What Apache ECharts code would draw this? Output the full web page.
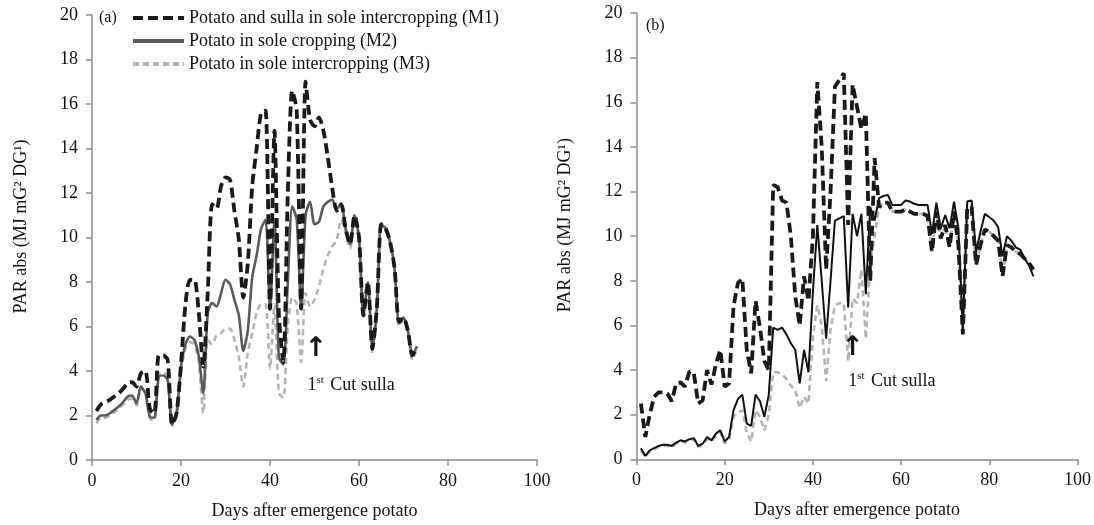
<!DOCTYPE html>
<html>
<head>
<meta charset="utf-8">
<script src="https://cdn.jsdelivr.net/npm/echarts@6/dist/echarts.min.js"></script>
<style>
html,body{margin:0;padding:0;background:#fff;}
#c{width:1094px;height:525px;}
</style>
</head>
<body>
<div id="c"></div>
<script>
// ---------- data ----------
const seriesNames = ['Potato and sulla in sole intercropping (M1)', 'Potato in sole cropping (M2)', 'Potato in sole intercropping (M3)'];
const xTicks = [0, 20, 40, 60, 80, 100];
const yTicks = [0, 2, 4, 6, 8, 10, 12, 14, 16, 18, 20];

// panel (a)
const daysA = [1,2,3,4,5,6,7,8,9,10,11,12,13,14,15,16,17,18,19,20,21,22,23,24,25,26,27,28,29,30,31,32,33,34,35,36,37,38,39,40,41,42,43,44,45,46,47,48,49,50,51,52,53,54,55,56,57,58,59,60,61,62,63,64,65,66,67,68,69,70,71,72,73];
const m1A = [2.2,2.5,2.6,2.7,2.85,3.0,3.2,3.45,3.5,3.3,
  3.9,4.0,2.3,2.1,4.7,4.7,4.5,1.6,2.1,4.3,
  7.0,8.1,8.1,6.6,4.2,7.5,11.5,11.3,12.3,12.7,
  12.6,11.2,9.9,7.3,8.8,12.3,14.0,15.6,15.7,6.8,
  14.8,6.5,4.4,12.0,16.6,15.7,6.8,17.0,15.3,15.0,
  15.4,14.8,13.6,12.2,11.2,11.5,10.4,9.7,11.0,10.0,
  6.5,8.0,5.0,6.8,10.6,10.4,9.8,8.6,6.2,6.4,
  5.8,4.7,5.1];
const m2A = [1.8,2.0,2.0,2.1,2.25,2.4,2.6,2.85,2.9,2.55,
  3.3,3.0,1.95,1.9,3.75,3.8,3.6,1.6,2.1,4.2,
  5.2,5.55,5.4,4.65,3.0,6.6,7.05,6.9,7.5,8.1,
  7.9,7.2,6.5,4.9,5.8,8.2,9.2,10.4,10.8,6.8,
  10.8,4.6,4.3,8.0,11.4,10.8,6.8,11.0,11.6,10.6,
  10.7,11.4,11.6,11.7,11.3,11.5,10.4,9.7,11.0,10.0,
  6.5,8.0,5.0,6.8,10.6,10.4,9.8,8.6,6.2,6.4,
  5.8,4.7,5.1];
const m3A = [1.65,1.9,1.9,2.0,2.15,2.3,2.5,2.7,2.75,2.45,
  3.2,3.0,1.85,1.8,3.85,3.95,3.75,1.55,1.95,4.0,
  5.0,5.3,5.2,4.4,2.1,5.4,5.2,5.6,5.7,5.9,
  5.9,5.4,4.6,3.3,4.8,5.7,6.6,7.0,7.0,4.1,
  7.0,3.0,2.8,6.0,7.3,7.0,4.4,7.5,6.9,7.2,
  7.8,8.6,9.2,9.6,9.9,10.8,10.2,9.5,10.8,9.9,
  6.4,7.8,4.8,6.6,10.5,10.3,9.7,8.5,6.0,6.3,
  5.7,4.5,5.0];

// panel (b)
const daysB = [1,2,3,4,5,6,7,8,9,10,11,12,13,14,15,16,17,18,19,20,21,22,23,24,25,26,27,28,29,30,31,32,33,34,35,36,37,38,39,40,41,42,43,44,45,46,47,48,49,50,51,52,53,54,55,56,57,58,59,60,61,62,63,64,65,66,67,68,69,70,71,72,73,74,75,76,77,78,79,80,81,82,83,84,85,86,87,88,89,90];
const m1B = [2.5,1.0,2.0,2.8,3.0,3.0,2.95,2.6,3.4,3.45,
  3.25,3.95,3.85,2.5,2.65,4.0,3.35,4.25,4.9,3.25,
  3.4,6.85,7.9,8.1,4.9,3.85,7.1,5.9,4.4,4.0,
  12.3,12.2,11.6,11.5,10.0,7.3,6.0,8.2,7.1,10.0,
  16.9,14.0,8.5,12.0,16.7,17.0,17.3,10.5,16.8,15.8,
  14.8,15.5,8.0,13.5,11.3,11.5,11.5,11.1,11.1,11.1,
  11.2,11.1,11.0,11.0,11.0,10.9,9.3,11.1,9.9,10.5,
  9.5,11.1,9.6,5.6,11.3,11.3,8.7,9.6,10.3,10.2,
  10.0,9.8,8.2,9.6,9.5,9.3,9.2,9.0,8.8,8.5];
const m2B = [0.5,0.15,0.4,0.5,0.6,0.65,0.65,0.6,0.75,0.85,
  0.8,0.9,0.95,0.6,0.7,1.0,0.85,1.15,1.3,0.8,
  1.0,2.2,2.7,2.9,1.6,1.5,2.9,2.6,1.9,2.9,
  5.9,5.8,5.9,5.6,5.2,4.9,3.4,4.9,3.9,7.5,
  10.5,8.0,5.4,8.0,10.7,10.8,10.9,6.8,11.0,10.0,
  11.0,7.4,11.3,10.7,11.7,11.8,11.85,11.4,11.4,11.4,
  11.6,11.55,11.45,11.4,11.4,11.4,10.1,11.5,10.35,10.95,
  10.35,11.55,10.35,5.8,11.55,11.6,9.3,10.2,11.0,10.85,
  10.7,10.4,9.1,10.0,9.8,9.5,9.4,9.0,8.7,8.2];
const m3B = [0.4,0.1,0.35,0.45,0.55,0.6,0.6,0.55,0.7,0.8,
  0.75,0.85,0.9,0.55,0.65,0.9,0.8,1.05,1.2,0.7,
  0.9,1.9,2.1,2.2,1.2,0.8,2.2,1.9,1.3,2.0,
  3.9,3.9,3.8,3.6,3.3,3.1,2.3,2.8,2.5,5.5,
  6.9,6.0,3.5,5.8,6.9,7.0,7.0,4.4,7.2,7.0,
  8.5,5.4,8.8,10.0,11.3,11.5,11.5,11.1,11.1,11.1,
  11.2,11.1,11.0,11.0,11.0,10.9,9.3,11.1,9.9,10.5,
  9.5,11.1,9.6,5.6,11.3,11.3,8.7,9.6,10.3,10.2,
  10.0,9.8,8.2,9.6,9.5,9.3,9.2,9.0,8.8,8.5];

// annotation positions (data coords)
const cutArrowA = [50.3, 5.0];
const cutTextA = [48.3, 3.37];
const cutArrowB = [49.0, 5.0];
const cutTextB = [47.9, 3.5];

// ---------- chart ----------
const FONT = '"Liberation Serif", "Times New Roman", serif';
const FS = 18;
const axisGray = '#8c8c8c';
const zip = (xs, ys) => xs.map((x, i) => [x, ys[i]]);

function xAxisCfg(idx) {
  return {
    gridIndex: idx, type: 'value', min: 0, max: 100, interval: 20,
    name: 'Days after emergence potato', nameLocation: 'middle', nameGap: 42,
    nameTextStyle: { fontFamily: FONT, fontSize: FS, color: '#111' },
    axisLine: { lineStyle: { color: axisGray, width: 1.5 } },
    axisTick: { show: true, length: 6, lineStyle: { color: axisGray, width: 1.5 } },
    axisLabel: { fontFamily: FONT, fontSize: FS, color: '#111', margin: 12 },
    splitLine: { show: false }
  };
}
function yAxisCfg(idx) {
  return {
    gridIndex: idx, type: 'value', min: 0, max: 20, interval: 2,
    name: 'PAR abs (MJ mG\u00B2 DG\u00B9)', nameLocation: 'middle', nameGap: 62,
    nameTextStyle: { fontFamily: FONT, fontSize: FS, color: '#111', padding: [0, 0, 0, 22] },
    axisLine: { show: true, lineStyle: { color: axisGray, width: 1.5 } },
    axisTick: { show: true, length: 6, lineStyle: { color: axisGray, width: 1.5 } },
    axisLabel: { fontFamily: FONT, fontSize: FS, color: '#111', margin: 14 },
    splitLine: { show: false }
  };
}

function cutMarks(arrow, text) {
  return {
    silent: true,
    animation: false,
    symbol: 'rect', symbolSize: 1,
    itemStyle: { color: 'rgba(0,0,0,0)' },
    data: [
      { name: 'arrow', coord: arrow, label: { show: true, position: 'inside', formatter: '\u2191',
          fontFamily: '"DejaVu Sans", sans-serif', fontSize: 27, fontWeight: 'bold', color: '#111' } },
      { name: 'cut', coord: text, label: { show: true, position: 'right', distance: 0,
          formatter: '1{s|st} Cut sulla',
          fontFamily: FONT, fontSize: FS, color: '#111',
          rich: { s: { fontFamily: FONT, fontSize: 11, color: '#111', padding: [0, 2, 10, 0] } } } }
    ]
  };
}

const m1Style = { color: '#1a1a1a', width: 3.8, type: [10, 5] };
const m3Style = { color: '#b3b3b3', width: 2.6, type: [6, 4] };

const option = {
  animation: false,
  backgroundColor: '#ffffff',
  textStyle: { fontFamily: FONT },
  title: [
    { text: '(a)', left: 94, top: 5, textStyle: { fontFamily: FONT, fontSize: 16, fontWeight: 'normal', color: '#111' } },
    { text: '(b)', left: 641, top: 13, textStyle: { fontFamily: FONT, fontSize: 16, fontWeight: 'normal', color: '#111' } }
  ],
  legend: {
    data: seriesNames,
    orient: 'vertical', left: 126, top: 4,
    itemWidth: 51, itemHeight: 14, itemGap: 5,
    itemStyle: { color: 'rgba(0,0,0,0)', borderWidth: 0, opacity: 0 },
    lineStyle: { width: 4 },
    textStyle: { fontFamily: FONT, fontSize: FS, color: '#111' },
    selectedMode: false
  },
  grid: [
    { left: 92, top: 15, width: 445, height: 445 },
    { left: 636.5, top: 13, width: 447, height: 446.3 }
  ],
  xAxis: [xAxisCfg(0), xAxisCfg(1)],
  yAxis: [yAxisCfg(0), yAxisCfg(1)],
  series: [
    { name: seriesNames[2], type: 'line', xAxisIndex: 0, yAxisIndex: 0, data: zip(daysA, m3A),
      showSymbol: false, symbol: 'none', smooth: 0.25, lineStyle: m3Style, itemStyle: { color: '#b3b3b3' }, z: 2 },
    { name: seriesNames[1], type: 'line', xAxisIndex: 0, yAxisIndex: 0, data: zip(daysA, m2A),
      showSymbol: false, symbol: 'none', smooth: 0.25, lineStyle: { color: '#5a5a5a', width: 2.6 }, itemStyle: { color: '#5a5a5a' }, z: 3,
      markPoint: cutMarks(cutArrowA, cutTextA) },
    { name: seriesNames[0], type: 'line', xAxisIndex: 0, yAxisIndex: 0, data: zip(daysA, m1A),
      showSymbol: false, symbol: 'none', smooth: 0.25, lineStyle: m1Style, itemStyle: { color: '#1a1a1a' }, z: 4 },

    { name: 'M3 (b)', type: 'line', xAxisIndex: 1, yAxisIndex: 1, data: zip(daysB, m3B),
      showSymbol: false, symbol: 'none', lineStyle: m3Style, itemStyle: { color: '#b3b3b3' }, z: 2 },
    { name: 'M2 (b)', type: 'line', xAxisIndex: 1, yAxisIndex: 1, data: zip(daysB, m2B),
      showSymbol: false, symbol: 'none', lineStyle: { color: '#111', width: 2 }, itemStyle: { color: '#111' }, z: 3,
      markPoint: cutMarks(cutArrowB, cutTextB) },
    { name: 'M1 (b)', type: 'line', xAxisIndex: 1, yAxisIndex: 1, data: zip(daysB, m1B),
      showSymbol: false, symbol: 'none', lineStyle: m1Style, itemStyle: { color: '#1a1a1a' }, z: 4 }
  ]
};

const chart = echarts.init(document.getElementById('c'), null, { renderer: 'canvas' });
chart.setOption(option);
</script>
</body>
</html>
